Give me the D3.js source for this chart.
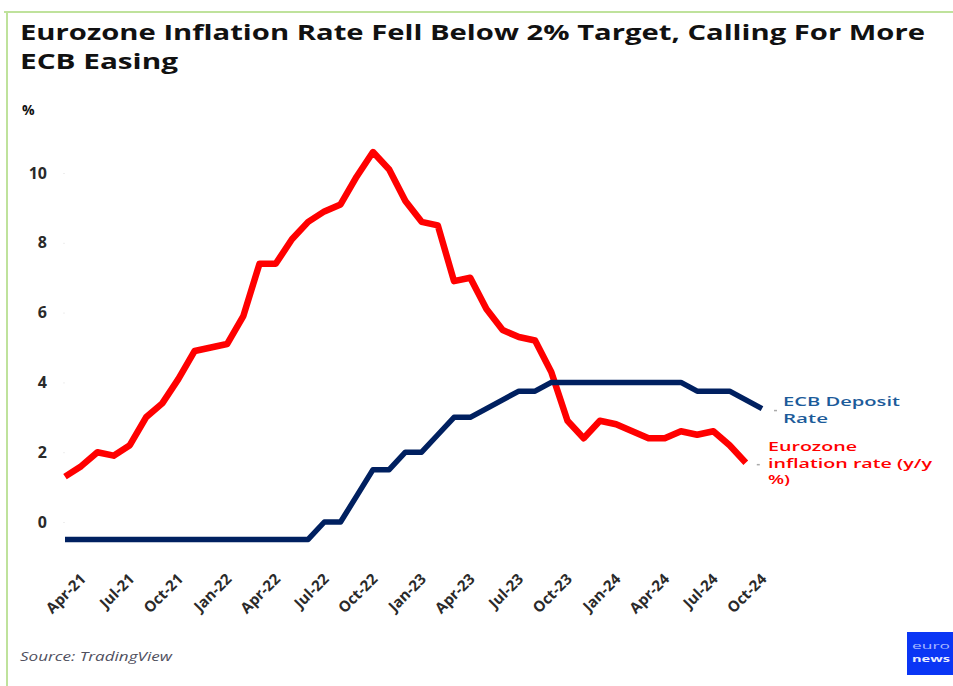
<!DOCTYPE html>
<html>
<head>
<meta charset="utf-8">
<script src="https://cdn.jsdelivr.net/npm/d3@7"></script>
<style>
  html, body { margin: 0; padding: 0; background: #fff; }
  svg { display: block; font-family: "Open Sans", sans-serif; }
</style>
</head>
<body>
<svg id="chart" width="953" height="686"></svg>
<script>
// Monthly categories, Mar-21 .. Oct-24
const months = [
  "Mar-21","Apr-21","May-21","Jun-21","Jul-21","Aug-21","Sep-21","Oct-21","Nov-21","Dec-21",
  "Jan-22","Feb-22","Mar-22","Apr-22","May-22","Jun-22","Jul-22","Aug-22","Sep-22","Oct-22","Nov-22","Dec-22",
  "Jan-23","Feb-23","Mar-23","Apr-23","May-23","Jun-23","Jul-23","Aug-23","Sep-23","Oct-23","Nov-23","Dec-23",
  "Jan-24","Feb-24","Mar-24","Apr-24","May-24","Jun-24","Jul-24","Aug-24","Sep-24","Oct-24"
];

// Axis tick labels (quarterly)
const xTickLabels = ["Apr-21","Jul-21","Oct-21","Jan-22","Apr-22","Jul-22","Oct-22","Jan-23",
                     "Apr-23","Jul-23","Oct-23","Jan-24","Apr-24","Jul-24","Oct-24"];
const yTickValues = [0, 2, 4, 6, 8, 10];

// Eurozone HICP inflation, y/y %, Mar-21 .. Sep-24
const inflation = [
  1.3, 1.6, 2.0, 1.9, 2.2, 3.0, 3.4, 4.1, 4.9, 5.0,
  5.1, 5.9, 7.4, 7.4, 8.1, 8.6, 8.9, 9.1, 9.9, 10.6, 10.1, 9.2,
  8.6, 8.5, 6.9, 7.0, 6.1, 5.5, 5.3, 5.2, 4.3, 2.9, 2.4, 2.9,
  2.8, 2.6, 2.4, 2.4, 2.6, 2.5, 2.6, 2.2, 1.7
];

// ECB deposit facility rate, %, Mar-21 .. Oct-24
const depositRate = [
  -0.5, -0.5, -0.5, -0.5, -0.5, -0.5, -0.5, -0.5, -0.5, -0.5,
  -0.5, -0.5, -0.5, -0.5, -0.5, -0.5, 0, 0, 0.75, 1.5, 1.5, 2.0,
  2.0, 2.5, 3.0, 3.0, 3.25, 3.5, 3.75, 3.75, 4.0, 4.0, 4.0, 4.0,
  4.0, 4.0, 4.0, 4.0, 4.0, 3.75, 3.75, 3.75, 3.5, 3.25
];

// Series label lines
const depositLabel = ["ECB Deposit", "Rate"];
const inflationLabel = ["Eurozone", "inflation rate (y/y", "%)"];

const svg = d3.select("#chart");

// Frame lines
svg.append("line").attr("x1", 4).attr("x2", 953).attr("y1", 12).attr("y2", 12)
  .attr("stroke", "#bfe29c").attr("stroke-width", 2);
svg.append("line").attr("x1", 7).attr("x2", 7).attr("y1", 12).attr("y2", 686)
  .attr("stroke", "#bfe29c").attr("stroke-width", 2);

// Title
const title = svg.append("g").attr("fill", "#111").style("font-weight", 700).style("font-size", "21px");
title.append("text").attr("x", 20).attr("y", 40)
  .attr("textLength", 905).attr("lengthAdjust", "spacingAndGlyphs")
  .text("Eurozone Inflation Rate Fell Below 2% Target, Calling For More");
title.append("text").attr("x", 20).attr("y", 69)
  .attr("textLength", 158).attr("lengthAdjust", "spacingAndGlyphs")
  .text("ECB Easing");

// Unit label
svg.append("text").attr("x", 22).attr("y", 115)
  .style("font-size", "14px").style("font-weight", 700).attr("fill", "#111")
  .text("%");

// Scales
const x = d3.scalePoint().domain(months).range([65, 762]);
const y = d3.scaleLinear().domain([0, 10]).range([522, 173]);

// Y axis
const yAxis = svg.append("g").attr("transform", "translate(65,0)")
  .call(d3.axisLeft(y).tickValues(yTickValues).tickSize(2).tickPadding(16));
yAxis.select(".domain").remove();
yAxis.selectAll("line").attr("stroke", "#eeeeee");
yAxis.selectAll("text")
  .style("font-family", "'Open Sans', sans-serif")
  .style("font-size", "16px").style("font-weight", 700).attr("fill", "#2a2a2a");

// X axis
const xAxis = svg.append("g").attr("transform", "translate(0,555)")
  .call(d3.axisBottom(x).tickValues(xTickLabels).tickSize(0));
xAxis.select(".domain").remove();
xAxis.selectAll("text")
  .attr("x", 0).attr("y", 0).attr("dy", 0)
  .attr("transform", "translate(5,25) rotate(-45)")
  .style("text-anchor", "end")
  .style("font-family", "'Open Sans', sans-serif")
  .style("font-size", "15px").style("font-weight", 700).attr("fill", "#2a2a2a");

// Series lines
const seriesLine = d3.line()
  .x((d, i) => x(months[i]))
  .y(d => y(d));

svg.append("path").datum(inflation)
  .attr("d", seriesLine)
  .attr("fill", "none").attr("stroke", "#ff0000")
  .attr("stroke-width", 6.5).attr("stroke-linejoin", "round");

svg.append("path").datum(depositRate)
  .attr("d", seriesLine)
  .attr("fill", "none").attr("stroke", "#002060")
  .attr("stroke-width", 5.5).attr("stroke-linejoin", "round");

// End-of-line labels, one text per line
function endLabel(lines, widths, x0, y0, lineGap, color, leaderX, leaderY) {
  svg.append("line")
    .attr("x1", leaderX).attr("x2", leaderX + 3)
    .attr("y1", leaderY).attr("y2", leaderY)
    .attr("stroke", "#aaa").attr("stroke-width", 1.5);
  svg.append("g").attr("fill", color)
    .style("font-size", "12px").style("font-weight", 600)
    .selectAll("text").data(lines).join("text")
    .attr("x", x0)
    .attr("y", (d, i) => y0 + i * lineGap)
    .attr("textLength", (d, i) => widths[i])
    .attr("lengthAdjust", "spacingAndGlyphs")
    .text(d => d);
}

const lastDep = depositRate.length - 1;
const lastInf = inflation.length - 1;
endLabel(depositLabel, [117, 45], 783, 406, 16.5, "#1c5b9a",
  x(months[lastDep]) + 12, y(depositRate[lastDep]) + 2);
endLabel(inflationLabel, [89, 164, 22], 768, 451, 16.5, "#ff0000",
  x(months[lastInf]) + 11, y(inflation[lastInf]) + 2);

// Source note
svg.append("text").attr("x", 20).attr("y", 661)
  .style("font-size", "13px").style("font-style", "italic")
  .attr("fill", "#50505e")
  .attr("textLength", 152).attr("lengthAdjust", "spacingAndGlyphs")
  .text("Source: TradingView");

// Brand mark
svg.append("rect").attr("x", 907).attr("y", 632).attr("width", 46).attr("height", 43)
  .attr("fill", "#0a36f5");
svg.append("text").attr("x", 912).attr("y", 649).style("font-size", "9px")
  .attr("fill", "#a8b8ff").attr("textLength", 38).attr("lengthAdjust", "spacingAndGlyphs")
  .text("euro");
svg.append("text").attr("x", 912).attr("y", 662).style("font-size", "9px").style("font-weight", 700)
  .attr("fill", "#e8ecff").attr("textLength", 38).attr("lengthAdjust", "spacingAndGlyphs")
  .text("news");
</script>
</body>
</html>
